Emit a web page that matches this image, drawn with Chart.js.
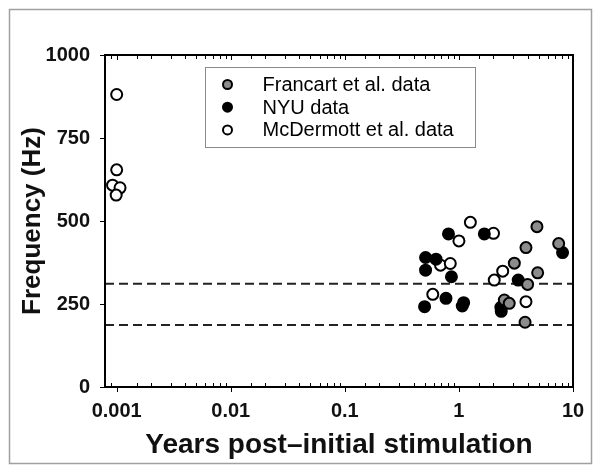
<!DOCTYPE html>
<html>
<head>
<meta charset="utf-8">
<script src="https://cdn.jsdelivr.net/npm/chart.js@4/dist/chart.umd.min.js"></script>
<style>
  html, body { margin: 0; padding: 0; background: #fff; }
  #wrap { width: 602px; height: 475px; }
</style>
</head>
<body>
<div id="wrap"><canvas id="freq-chart" width="602" height="475"></canvas></div>
<script>
// values (years post-stimulation, frequency in Hz)
const francartYears = [4.83, 3.87, 3.06, 4.9, 4.0, 2.5, 2.76, 3.8, 7.49];
const francartHz = [483, 420, 373, 344, 309, 262, 252, 195, 432];

const nyuYears = [8.1, 0.81, 1.67, 0.51, 0.63, 0.51, 0.86, 3.31, 0.77, 1.1, 1.07, 0.5, 2.33, 2.35];
const nyuHz = [405, 461, 461, 390, 385, 352, 332, 322, 267, 254, 244, 242, 240, 228];

const mcdYears = [0.001, 0.001, 0.00092, 0.00107, 0.00099, 1.26, 1.0, 2.01, 0.69, 0.84, 2.42, 2.04, 0.59, 3.87];
const mcdHz = [881, 654, 608, 600, 578, 496, 440, 463, 367, 372, 349, 322, 279, 257];

const refLinesHz = [311, 187];
const xRange = [0.00079, 10];
const yTicks = [0, 250, 500, 750, 1000];

const FONT = "'Liberation Sans', Arial, sans-serif";

function pts(xs, ys) {
  return xs.map((x, i) => ({ x: x, y: ys[i] }));
}

function isDecade(v) {
  const l = Math.log10(v);
  return Math.abs(l - Math.round(l)) < 1e-6;
}

// outer frame, plot box, tick marks and the boxed legend
const decorations = {
  id: 'decorations',
  beforeDraw(chart) {
    const ctx = chart.ctx;
    ctx.save();
    ctx.fillStyle = '#fff';
    ctx.fillRect(0, 0, chart.width, chart.height);
    ctx.strokeStyle = '#a0a0a0';
    ctx.lineWidth = 1.5;
    ctx.strokeRect(9.5, 9.5, 582, 454);
    ctx.restore();
  },
  afterDraw(chart) {
    const ctx = chart.ctx;
    const a = chart.chartArea;
    const xs = chart.scales.x, ys = chart.scales.y;
    ctx.save();
    ctx.strokeStyle = '#000';
    ctx.lineWidth = 2;
    ctx.strokeRect(a.left, a.top, a.right - a.left, a.bottom - a.top);

    ctx.lineWidth = 1;
    xs.ticks.forEach(t => {
      const px = Math.round(xs.getPixelForValue(t.value)) + 0.5;
      ctx.beginPath();
      if (isDecade(t.value)) {
        ctx.moveTo(px, a.bottom); ctx.lineTo(px, a.bottom + 5);
        ctx.moveTo(px, a.top); ctx.lineTo(px, a.top + 5);
      } else {
        ctx.moveTo(px, a.bottom); ctx.lineTo(px, a.bottom - 4);
        ctx.moveTo(px, a.top); ctx.lineTo(px, a.top + 4);
      }
      ctx.stroke();
    });
    ys.ticks.forEach(t => {
      const py = Math.round(ys.getPixelForValue(t.value)) + 0.5;
      ctx.beginPath();
      ctx.moveTo(a.left - 5, py); ctx.lineTo(a.left, py);
      ctx.stroke();
    });

    // legend
    const box = { x: 205.5, y: 67.5, w: 270, h: 80 };
    ctx.strokeStyle = '#8a8a8a';
    ctx.lineWidth = 1;
    ctx.strokeRect(box.x, box.y, box.w, box.h);
    ctx.font = '20px ' + FONT;
    ctx.textBaseline = 'middle';
    ctx.textAlign = 'left';
    for (let i = 0; i < 3; i++) {
      const ds = chart.data.datasets[i];
      const cy = box.y + 17 + i * 22.7;
      ctx.beginPath();
      ctx.arc(box.x + 22, cy, 4.5, 0, Math.PI * 2);
      ctx.fillStyle = ds.backgroundColor;
      ctx.fill();
      ctx.lineWidth = 2;
      ctx.strokeStyle = '#000';
      ctx.stroke();
      ctx.fillStyle = '#000';
      ctx.fillText(ds.label, box.x + 57, cy + 1);
    }
    ctx.restore();
  }
};

const canvas = document.getElementById('freq-chart');
new Chart(canvas, {
  type: 'scatter',
  data: {
    datasets: [
      {
        label: 'Francart et al. data',
        data: pts(francartYears, francartHz),
        backgroundColor: '#8c8c8c',
        borderColor: '#000',
        borderWidth: 2,
        pointRadius: 5.5
      },
      {
        label: 'NYU data',
        data: pts(nyuYears, nyuHz),
        backgroundColor: '#000',
        borderColor: '#000',
        borderWidth: 2,
        pointRadius: 5.5
      },
      {
        label: 'McDermott et al. data',
        data: pts(mcdYears, mcdHz),
        backgroundColor: '#fff',
        borderColor: '#000',
        borderWidth: 2,
        pointRadius: 5.5
      },
      ...refLinesHz.map(hz => ({
        type: 'line',
        label: 'ref ' + hz,
        data: [{ x: xRange[0], y: hz }, { x: xRange[1], y: hz }],
        borderColor: '#222',
        borderWidth: 2,
        borderDash: [9, 5],
        pointRadius: 0,
        fill: false
      }))
    ]
  },
  options: {
    responsive: false,
    animation: false,
    layout: { padding: { left: 17, right: 29, top: 55, bottom: 0 } },
    scales: {
      x: {
        type: 'logarithmic',
        min: xRange[0],
        max: xRange[1],
        grid: { display: false, drawTicks: false },
        border: { display: false },
        afterFit(scale) { scale.height = 88; },
        ticks: {
          autoSkip: false,
          maxRotation: 0,
          padding: 12,
          color: '#111',
          font: { family: FONT, size: 20, weight: 'bold' },
          callback: (v) => isDecade(v) ? String(Number(v.toPrecision(1))) : ''
        },
        title: {
          display: true,
          text: 'Years post\u2013initial stimulation',
          color: '#111',
          padding: { top: 0, bottom: 13 },
          font: { family: FONT, size: 28, weight: 'bold' }
        }
      },
      y: {
        min: 0,
        max: 1000,
        grid: { display: false, drawTicks: false },
        border: { display: false },
        afterFit(scale) { scale.width = 88; },
        afterBuildTicks(scale) { scale.ticks = yTicks.map(v => ({ value: v })); },
        ticks: {
          padding: 15,
          color: '#111',
          font: { family: FONT, size: 20, weight: 'bold' },
          callback: (v) => String(v)
        },
        title: {
          display: true,
          text: 'Frequency (Hz)',
          color: '#111',
          padding: 0,
          font: { family: FONT, size: 26, weight: 'bold' }
        }
      }
    },
    plugins: {
      legend: { display: false },
      tooltip: { enabled: false }
    }
  },
  plugins: [decorations]
});
</script>
</body>
</html>
